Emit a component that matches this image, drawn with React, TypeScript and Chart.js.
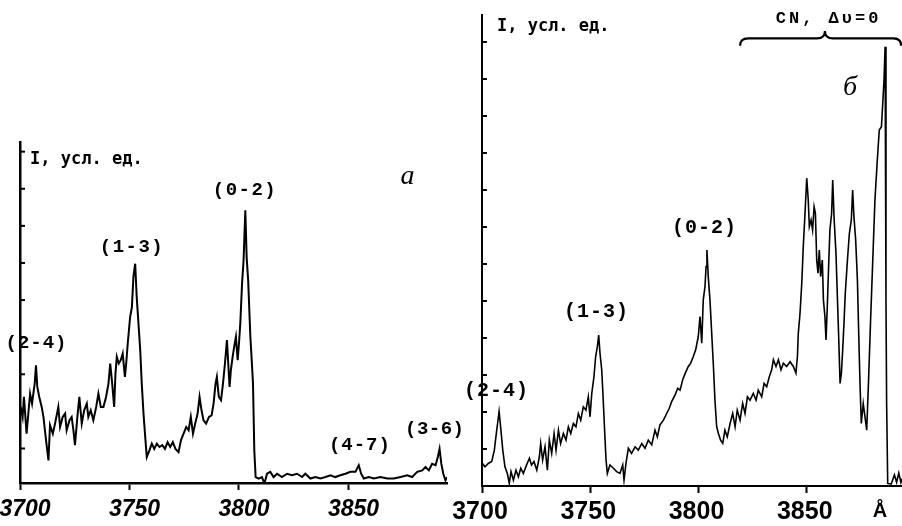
import { useEffect, useRef } from "react";
import { Chart, registerables } from "chart.js";

Chart.register(...registerables);

// ---------- Panel а (left) ----------
const leftWavelengths = [
  3700.3, 3701.2, 3701.8, 3703.0, 3704.6, 3705.5, 3706.1, 3706.7, 3707.3, 3707.9,
  3708.8, 3709.9, 3710.7, 3711.9, 3713.0, 3713.7, 3715.0, 3716.0, 3717.5, 3718.3,
  3719.5, 3720.6, 3721.3, 3722.6, 3723.6, 3724.4, 3725.1, 3726.2, 3727.1, 3728.2,
  3729.3, 3730.5, 3731.2, 3732.3, 3733.5, 3734.8, 3735.8, 3736.9, 3738.1, 3739.3,
  3740.4, 3741.2, 3742.1, 3743.0, 3743.6, 3744.2, 3745.1, 3746.0, 3746.9, 3747.9,
  3748.5, 3749.2, 3750.3, 3751.1, 3751.8, 3752.6, 3753.3, 3754.1, 3754.9, 3755.6,
  3756.4, 3757.3, 3757.9, 3759.1, 3760.2, 3761.3, 3762.5, 3763.7, 3765.0, 3766.2,
  3767.4, 3768.6, 3769.8, 3771.0, 3772.4, 3773.5, 3774.7, 3775.9, 3777.0, 3778.0,
  3779.0, 3780.0, 3781.1, 3782.0, 3782.9, 3783.8, 3785.0, 3786.3, 3787.5, 3788.4,
  3789.3, 3789.9, 3790.8, 3791.8, 3792.7, 3793.6, 3794.5, 3795.1, 3795.7, 3796.3,
  3797.1, 3797.8, 3798.6, 3799.4, 3800.0, 3800.6, 3801.4, 3802.1, 3802.9, 3803.5,
  3804.2, 3805.2, 3805.9, 3806.4, 3807.0, 3807.6, 3809.0, 3810.5, 3811.6, 3812.8,
  3814.3, 3815.8, 3817.4, 3819.6, 3822.0, 3824.2, 3826.5, 3828.8, 3830.3, 3832.6,
  3834.9, 3837.2, 3839.5, 3841.8, 3844.0, 3846.3, 3848.6, 3850.9, 3853.2, 3854.7,
  3855.8, 3857.0, 3859.3, 3861.6, 3864.6, 3867.7, 3870.7, 3873.8, 3876.8, 3879.1,
  3881.4, 3883.7, 3885.2, 3886.7, 3888.2, 3889.8, 3890.8, 3891.6, 3892.4, 3893.3,
  3894.3, 3895.0,
];
const leftIntensity = [
  2.12, 1.85, 2.39, 1.40, 2.48, 2.21, 2.48, 2.75, 3.24, 2.66,
  2.39, 2.12, 1.85, 1.22, 0.68, 1.63, 1.40, 1.67, 2.12, 1.58,
  1.85, 1.94, 1.49, 1.76, 1.85, 1.49, 1.09, 1.85, 2.39, 1.67,
  2.03, 2.21, 1.85, 2.03, 1.76, 2.12, 2.48, 2.12, 2.12, 2.39,
  2.75, 3.29, 2.75, 2.12, 3.02, 3.47, 3.29, 3.38, 3.56, 2.93,
  3.29, 3.83, 4.55, 4.81, 5.63, 5.98, 5.08, 4.37, 3.65, 2.75,
  1.94, 1.22, 0.77, 0.95, 1.13, 0.99, 1.13, 1.04, 1.09, 0.99,
  1.17, 1.04, 1.17, 0.99, 0.90, 1.22, 1.40, 1.58, 1.49, 1.85,
  1.40, 1.67, 1.94, 2.39, 2.03, 1.76, 1.67, 1.85, 1.89, 2.21,
  2.75, 2.93, 2.39, 2.30, 2.75, 3.29, 3.92, 3.29, 2.66, 3.11,
  3.47, 3.74, 4.01, 3.38, 3.83, 4.37, 5.44, 6.07, 7.42, 6.16,
  5.53, 4.01, 3.29, 2.75, 0.95, 0.23, 0.19, 0.23, 0.05, 0.32,
  0.37, 0.23, 0.32, 0.23, 0.32, 0.28, 0.32, 0.23, 0.32, 0.19,
  0.23, 0.19, 0.23, 0.28, 0.23, 0.28, 0.32, 0.37, 0.37, 0.55,
  0.32, 0.19, 0.23, 0.19, 0.23, 0.19, 0.19, 0.23, 0.28, 0.23,
  0.37, 0.41, 0.50, 0.41, 0.59, 0.55, 0.77, 0.99, 0.59, 0.32,
  0.14, 0.23,
];

// ---------- Panel б (right) ----------
const rightWavelengths = [
  3700.2, 3701.4, 3702.9, 3704.5, 3705.7, 3706.8, 3707.9, 3708.6, 3709.6, 3710.6,
  3711.7, 3712.6, 3713.4, 3714.5, 3715.7, 3716.8, 3717.9, 3719.1, 3720.6, 3721.9,
  3722.9, 3724.0, 3725.3, 3726.5, 3727.1, 3728.0, 3729.1, 3730.2, 3731.1, 3732.2,
  3733.3, 3734.2, 3735.3, 3736.3, 3737.6, 3738.8, 3739.9, 3741.0, 3742.2, 3743.4,
  3744.5, 3745.6, 3746.8, 3748.0, 3749.1, 3749.9, 3750.7, 3751.7, 3752.5, 3753.3,
  3753.9, 3754.5, 3755.3, 3756.0, 3756.7, 3757.3, 3757.9, 3759.1, 3760.7, 3762.2,
  3763.7, 3765.0, 3765.6, 3766.5, 3767.6, 3769.1, 3770.7, 3772.2, 3773.8, 3775.3,
  3776.8, 3778.4, 3779.9, 3781.0, 3782.2, 3783.8, 3785.3, 3786.5, 3787.6, 3789.2,
  3790.4, 3791.5, 3792.7, 3793.9, 3795.3, 3796.4, 3797.6, 3798.7, 3799.9, 3800.7,
  3801.5, 3802.2, 3803.0, 3803.5, 3803.9, 3804.5, 3805.3, 3806.1, 3806.9, 3807.6,
  3808.4, 3809.2, 3810.2, 3811.2, 3812.2, 3813.3, 3814.6, 3815.8, 3816.9, 3817.9,
  3819.2, 3820.4, 3821.5, 3822.6, 3823.8, 3825.3, 3826.6, 3827.6, 3829.2, 3830.3,
  3831.5, 3832.7, 3833.8, 3834.6, 3835.8, 3836.9, 3838.1, 3839.2, 3840.7, 3842.3,
  3843.8, 3845.0, 3845.7, 3846.1, 3846.9, 3847.7, 3848.4, 3849.2, 3850.0, 3850.7,
  3851.2, 3852.0, 3852.7, 3853.4, 3854.0, 3854.6, 3855.2, 3855.8, 3856.4, 3857.2,
  3857.7, 3858.4, 3858.9, 3859.5, 3860.1, 3860.7, 3861.5, 3862.0, 3862.6, 3863.5,
  3864.1, 3864.7, 3865.4, 3866.0, 3866.6, 3867.2, 3867.8, 3868.8, 3869.7, 3870.6,
  3871.2, 3871.8, 3872.6, 3873.4, 3874.0, 3874.6, 3875.2, 3876.1, 3876.9, 3877.7,
  3878.5, 3879.5, 3880.5, 3881.5, 3882.6, 3883.5, 3884.5, 3885.1, 3885.7, 3886.2,
  3886.6, 3886.9, 3887.4, 3889.0, 3890.5, 3891.5, 3892.5, 3893.5, 3894.0,
];
const rightIntensity = [
  0.61, 0.52, 0.61, 0.66, 0.97, 1.51, 2.01, 1.60, 0.97, 0.52,
  0.34, 0.07, 0.39, 0.16, 0.43, 0.25, 0.48, 0.34, 0.57, 0.75,
  0.57, 0.66, 0.43, 0.79, 1.15, 0.70, 1.06, 0.43, 1.24, 0.88,
  1.42, 0.97, 1.51, 1.15, 1.42, 1.24, 1.60, 1.42, 1.69, 1.60,
  1.96, 1.78, 2.14, 2.05, 2.41, 1.87, 2.50, 2.95, 3.50, 3.77,
  4.08, 3.59, 3.14, 2.32, 1.42, 0.70, 0.34, 0.57, 0.48, 0.39,
  0.34, 0.57, 0.16, 0.61, 1.02, 0.88, 1.06, 0.97, 1.15, 1.02,
  1.24, 1.11, 1.51, 1.33, 1.65, 1.78, 1.96, 2.10, 2.28, 2.46,
  2.64, 2.59, 2.87, 3.05, 3.23, 3.32, 3.50, 3.68, 4.04, 4.58,
  3.86, 5.03, 5.39, 5.93, 6.38, 5.66, 5.03, 4.13, 3.23, 2.32,
  1.60, 1.42, 1.24, 1.15, 1.51, 1.33, 1.69, 1.96, 1.60, 2.05,
  1.78, 2.23, 1.96, 2.41, 2.32, 2.50, 2.32, 2.59, 2.41, 2.77,
  2.68, 2.95, 3.14, 3.41, 3.23, 3.41, 3.14, 3.32, 3.23, 3.36,
  3.23, 3.05, 3.50, 4.13, 4.67, 5.48, 6.47, 7.37, 8.32, 7.73,
  7.01, 7.19, 6.92, 7.55, 7.37, 6.11, 5.75, 6.38, 5.66, 6.11,
  5.03, 4.58, 3.95, 4.85, 5.93, 6.92, 7.37, 8.27, 7.28, 6.29,
  5.21, 4.13, 2.77, 3.05, 3.68, 4.40, 5.21, 6.11, 6.83, 7.19,
  8.00, 7.28, 6.65, 5.57, 4.13, 2.77, 1.69, 2.23, 1.87, 1.51,
  2.77, 4.49, 6.11, 7.73, 8.81, 9.62, 9.71, 10.34, 10.97, 11.87,
  5.03, 2.23, 0.07, 0.05, 0.30, 0.10, 0.35, 0.10, 0.20,
];

// ---------- Axes ----------
const xTickValues = [3700, 3750, 3800, 3850];
const leftYTicks = [1, 2, 3, 4, 5, 6, 7, 8, 9];
const rightYTicks = [1, 2, 3, 4, 5, 6, 7, 8, 9, 10, 11, 12];
const yAxisTitle = "I, усл. ед.";
const leftBandLabels = ["(2-4)", "(1-3)", "(0-2)", "(4-7)", "(3-6)"];
const rightBandLabels = ["(2-4)", "(1-3)", "(0-2)"];
const leftPanelLetter = "а";
const rightPanelLetter = "б";
const cnLabel = "CN, \u0394\u03c5=0";
const unitLabel = "Å";

const MONO = "'Liberation Mono', 'DejaVu Sans Mono', monospace";
const TITLE_FONT = "bold 17px 'DejaVu Sans Mono', monospace";

type Note = { text: string; x: number; y: number; font: string; align?: CanvasTextAlign; spacing?: number };

const leftNotes: Note[] = [
  { text: yAxisTitle, x: 3704.6, y: 8.78, font: TITLE_FONT, align: "left" },
  { text: leftBandLabels[0], x: 3707.3, y: 3.84, font: `bold 19px ${MONO}`, spacing: 1 },
  { text: leftBandLabels[1], x: 3750.8, y: 6.43, font: `bold 19px ${MONO}`, spacing: 1.5 },
  { text: leftBandLabels[2], x: 3802.4, y: 7.97, font: `bold 19px ${MONO}`, spacing: 1.5 },
  { text: leftBandLabels[3], x: 3855.0, y: 1.09, font: `bold 19px ${MONO}`, spacing: 1 },
  { text: leftBandLabels[4], x: 3889.3, y: 1.53, font: `bold 19px ${MONO}`, spacing: 0.5 },
  { text: leftPanelLetter, x: 3877.0, y: 8.32, font: "italic 28px 'Liberation Serif', serif" },
];

const rightNotes: Note[] = [
  { text: yAxisTitle, x: 3706.9, y: 12.43, font: TITLE_FONT, align: "left" },
  { text: rightBandLabels[0], x: 3706.5, y: 2.57, font: `bold 20px ${MONO}`, spacing: 1 },
  { text: rightBandLabels[1], x: 3752.7, y: 4.7, font: `bold 20px ${MONO}`, spacing: 1 },
  { text: rightBandLabels[2], x: 3802.5, y: 6.97, font: `bold 20px ${MONO}`, spacing: 1 },
  { text: rightPanelLetter, x: 3870.0, y: 10.76, font: "italic 28px 'Liberation Serif', serif" },
  { text: cnLabel, x: 3859.4, y: 12.62, font: `bold 17px ${MONO}`, spacing: 3 },
  { text: unitLabel, x: 3883.8, y: -0.7, font: "bold 20px 'Liberation Sans', sans-serif" },
];

const rightBrace = { from: 3819.2, mid: 3858.4, to: 3893.6, end: 11.9, line: 12.1, tip: 12.3 };

const overlayPlugin = {
  id: "overlay",
  afterDraw(chart: any, _args: any, opts: any) {
    const { ctx, chartArea, scales } = chart;
    const xs = scales.x;
    const ys = scales.y;
    ctx.save();
    ctx.strokeStyle = "#000";
    ctx.fillStyle = "#000";
    ctx.lineWidth = opts.tickWidth;
    for (const v of opts.yTicks) {
      const py = ys.getPixelForValue(v);
      ctx.beginPath();
      ctx.moveTo(chartArea.left, py);
      ctx.lineTo(chartArea.left + opts.tickLen, py);
      ctx.stroke();
    }
    for (const n of opts.notes as Note[]) {
      ctx.font = n.font;
      ctx.textAlign = n.align || "center";
      ctx.textBaseline = "middle";
      const sp = n.spacing || 0;
      (ctx as any).letterSpacing = sp + "px";
      let px = xs.getPixelForValue(n.x);
      if (!n.align || n.align === "center") px += sp / 2;
      ctx.fillText(n.text, px, ys.getPixelForValue(n.y));
      (ctx as any).letterSpacing = "0px";
    }
    if (opts.brace) {
      const b = opts.brace;
      const x0 = xs.getPixelForValue(b.from);
      const x1 = xs.getPixelForValue(b.to);
      const xm = xs.getPixelForValue(b.mid);
      const yEnd = ys.getPixelForValue(b.end);
      const yLine = ys.getPixelForValue(b.line);
      const yTip = ys.getPixelForValue(b.tip);
      ctx.lineWidth = 2.2;
      ctx.beginPath();
      ctx.moveTo(x0, yEnd);
      ctx.quadraticCurveTo(x0, yLine, x0 + 8, yLine);
      ctx.lineTo(xm - 8, yLine);
      ctx.quadraticCurveTo(xm, yLine, xm, yTip);
      ctx.quadraticCurveTo(xm, yLine, xm + 8, yLine);
      ctx.lineTo(x1 - 8, yLine);
      ctx.quadraticCurveTo(x1, yLine, x1, yEnd);
      ctx.stroke();
    }
    ctx.restore();
  },
};

type PanelCfg = {
  xs: number[];
  ys: number[];
  xMin: number;
  xMax: number;
  yMin: number;
  yMax: number;
  padding: { left: number; right: number; top: number; bottom: number };
  tickFont: any;
  labelOffset: number;
  labelPadding: number;
  lineWidth: number;
  axisWidth: number;
  yTicks: number[];
  notes: Note[];
  brace?: any;
};

function buildChart(canvas: HTMLCanvasElement, p: PanelCfg) {
  const n = Math.min(p.xs.length, p.ys.length);
  const points = [];
  for (let i = 0; i < n; i++) points.push({ x: p.xs[i], y: p.ys[i] });
  return new Chart(canvas, {
    type: "line",
    data: {
      datasets: [
        {
          data: points,
          borderColor: "#000",
          borderWidth: p.lineWidth,
          pointRadius: 0,
          tension: 0,
          fill: false,
        },
      ],
    },
    plugins: [overlayPlugin as any],
    options: {
      animation: false,
      responsive: false,
      devicePixelRatio: 1,
      layout: { padding: p.padding },
      plugins: {
        legend: { display: false },
        tooltip: { enabled: false },
        overlay: { yTicks: p.yTicks, notes: p.notes, brace: p.brace, tickLen: 5, tickWidth: 2 },
      } as any,
      scales: {
        x: {
          type: "linear",
          min: p.xMin,
          max: p.xMax,
          afterBuildTicks: (s: any) => {
            s.ticks = xTickValues.map((value) => ({ value }));
          },
          afterFit: (s: any) => {
            s.height = 40;
            s.paddingLeft = 0;
            s.paddingRight = 0;
          },
          grid: {
            drawOnChartArea: false,
            drawTicks: true,
            tickLength: 7,
            tickWidth: 2,
            color: "#000",
          },
          border: { display: true, color: "#000", width: p.axisWidth },
          ticks: {
            color: "#000",
            font: p.tickFont,
            padding: p.labelPadding,
            labelOffset: p.labelOffset,
            maxRotation: 0,
            autoSkip: false,
            callback: (v: any) => String(v),
          },
        },
        y: {
          type: "linear",
          min: p.yMin,
          max: p.yMax,
          afterFit: (s: any) => {
            s.width = 0;
            s.paddingTop = 0;
            s.paddingBottom = 0;
          },
          grid: { display: false },
          ticks: { display: false },
          border: { display: true, color: "#000", width: p.axisWidth },
        },
      },
    },
  } as any);
}

export default function App() {
  const leftRef = useRef<HTMLCanvasElement>(null);
  const rightRef = useRef<HTMLCanvasElement>(null);

  useEffect(() => {
    const left = buildChart(leftRef.current!, {
      xs: leftWavelengths,
      ys: leftIntensity,
      xMin: 3700,
      xMax: 3895,
      yMin: 0.07,
      yMax: 9.26,
      padding: { left: 20, right: 455, top: 142, bottom: 3 },
      tickFont: { family: "'Liberation Sans', sans-serif", size: 23, style: "italic", weight: "bold" },
      labelOffset: 5,
      labelPadding: 6,
      lineWidth: 2,
      axisWidth: 2.5,
      yTicks: leftYTicks,
      notes: leftNotes,
    });
    const right = buildChart(rightRef.current!, {
      xs: rightWavelengths,
      ys: rightIntensity,
      xMin: 3700,
      xMax: 3894,
      yMin: 0,
      yMax: 12.73,
      padding: { left: 482, right: 0, top: 15, bottom: 0 },
      tickFont: { family: "'Liberation Sans', sans-serif", size: 25, weight: "bold" },
      labelOffset: -2,
      labelPadding: 4,
      lineWidth: 1.6,
      axisWidth: 2,
      yTicks: rightYTicks,
      notes: rightNotes,
      brace: rightBrace,
    });
    return () => {
      left.destroy();
      right.destroy();
    };
  }, []);

  const canvasStyle: any = { position: "absolute", left: 0, top: 0, width: 902, height: 526 };
  return (
    <div style={{ position: "fixed", left: 0, top: 0, width: 902, height: 526, background: "#fff", overflow: "hidden" }}>
      <canvas ref={leftRef} width={902} height={526} style={canvasStyle} />
      <canvas ref={rightRef} width={902} height={526} style={canvasStyle} />
    </div>
  );
}
